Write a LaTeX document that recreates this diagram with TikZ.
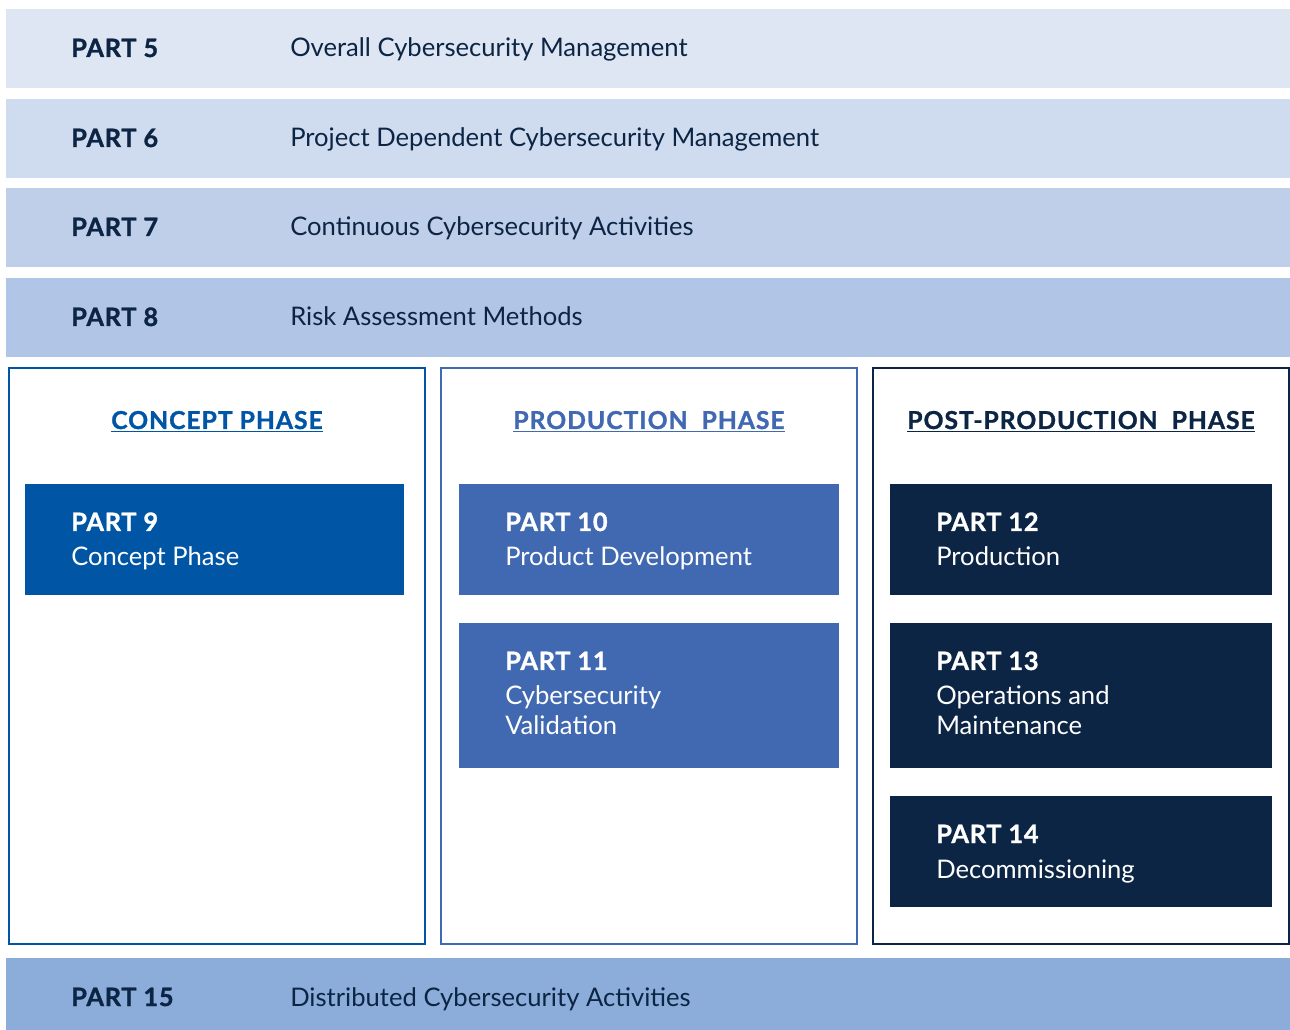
\documentclass[tikz,border=0pt]{standalone}
\usepackage{fontspec}
\setmainfont{Lato}
\usetikzlibrary{positioning}
\definecolor{navy}{HTML}{0C2544}
\definecolor{concept}{HTML}{0055A5}
\definecolor{product}{HTML}{4169B2}
\definecolor{bandA}{HTML}{DFE6F3}
\definecolor{bandB}{HTML}{CFDBEE}
\definecolor{bandC}{HTML}{BFCFEA}
\definecolor{bandD}{HTML}{B1C5E6}
\definecolor{bandE}{HTML}{8CACD9}
\tikzset{partlabel/.style={anchor=base west, inner sep=0pt, font=\bfseries\fontsize{19}{22}\selectfont\addfontfeature{FakeBold=1.2,LetterSpace=3}},
         parttext/.style={anchor=base west, inner sep=0pt, font=\fontsize{19.2}{22}\selectfont},
         phasetitle/.style={anchor=base, inner sep=0pt, font=\bfseries\fontsize{18.5}{22}\selectfont\addfontfeature{FakeBold=1.2,LetterSpace=4}}}
\begin{document}
\begin{tikzpicture}[x=0.75pt,y=-0.75pt]
\useasboundingbox (0,0) rectangle (1290,1030);
% horizontal bands
\foreach \top/\col/\n/\txt in {9/bandA/5/Overall Cybersecurity Management,
    99/bandB/6/Project Dependent Cybersecurity Management,
    188/bandC/7/Continuous Cybersecurity Activities,
    278/bandD/8/Risk Assessment Methods}{
  \fill[\col] (6,\top) rectangle (1290,\top+79);
  \node[partlabel,text=navy] (p\n) at (71,\top+48) {PART \n};
  \node[parttext,text=navy] (t\n) at (290,\top+48) {\txt};
}
\fill[bandE] (6,958) rectangle (1290,1030);
\node[partlabel,text=navy] (p15) at (71,1006) {PART 15};
\node[parttext,text=navy] (t15) at (290,1006) {Distributed Cybersecurity Activities};
% phase frames
\draw[concept,line width=1.5pt] (9,368) rectangle (425,944);
\draw[product,line width=1.5pt] (441,368) rectangle (857,944);
\draw[navy,line width=1.5pt] (873,368) rectangle (1289,944);
\node[phasetitle,text=concept] (h1) at (217,429) {\underline{CONCEPT PHASE}};
\node[phasetitle,text=product] (h2) at (649,429) {\underline{PRODUCTION\ \ PHASE}};
\node[phasetitle,text=navy] (h3) at (1081,429) {\underline{POST-PRODUCTION\ \ PHASE}};
% part boxes
\foreach \x/\r/\top/\bot/\col/\n/\la/\lb in {25/404/484/595/concept/9/Concept Phase/,
    459/839/484/595/product/10/Product Development/,
    459/839/623/768/product/11/Cybersecurity/Validation,
    890/1272/484/595/navy/12/Production/,
    890/1272/623/768/navy/13/Operations and/Maintenance,
    890/1272/796/907/navy/14/Decommissioning/}{
  \fill[\col] (\x,\top) rectangle (\r,\bot);
  \node[partlabel,text=white] (b\n) at (\x+46,\top+47) {PART \n};
  \node[parttext,text=white] (b\n a) at (\x+46,\top+82) {\la};
  \node[parttext,text=white] (b\n b) at (\x+46,\top+111) {\lb};
}
\end{tikzpicture}
\end{document}
